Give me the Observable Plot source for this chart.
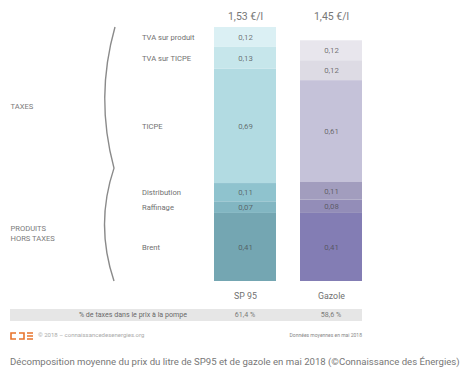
<!DOCTYPE html>
<html><head><meta charset="utf-8">
<script src="https://cdn.jsdelivr.net/npm/d3@7"></script>
<script src="https://cdn.jsdelivr.net/npm/@observablehq/plot@0.6"></script>
<style>
body{margin:0;background:#fff;font-family:Roboto,"Noto Sans",sans-serif;}
#wrap{position:relative;width:465px;height:380px;}
.abs{position:absolute;white-space:nowrap;}
</style></head>
<body><div id="wrap"></div>
<script>
const fuels = ["SP 95", "Gazole"];
const components = ["Brent", "Raffinage", "Distribution", "TICPE", "TVA sur TICPE", "TVA sur produit"];
const sp95Values = [0.41, 0.07, 0.11, 0.69, 0.13, 0.12];
const gazoleValues = [0.41, 0.08, 0.11, 0.61, 0.12, 0.12];
const totalLabels = ["1,53 €/l", "1,45 €/l"];
const taxShares = ["61,4 %", "58,6 %"];
const taxRowLabel = "% de taxes dans le prix à la pompe";
const groups = ["PRODUITS\nHORS TAXES", "TAXES"];
const groupMembers = [["Brent", "Raffinage", "Distribution"], ["TICPE", "TVA sur TICPE", "TVA sur produit"]];
const sp95Colors = ["#74a6b2", "#82b6c2", "#8fc3ce", "#b2dbe2", "#c6e6eb", "#dbf0f4"];
const gazoleColors = ["#837db4", "#938db8", "#a29dbe", "#c5c2d9", "#dddbe4", "#e8e6ed"];
const credit = "© 2018 – connaissancedesenergies.org";
const dataNote = "Données moyennes en mai 2018";
const caption = "Décomposition moyenne du prix du litre de SP95 et de gazole en mai 2018 (©Connaissance des Énergies)";

const valuesByFuel = [sp95Values, gazoleValues];
const colorsByFuel = [sp95Colors, gazoleColors];
const rows = [];
fuels.forEach((f, i) => components.forEach((c, j) => rows.push({fuel: f, comp: c, value: valuesByFuel[i][j], color: colorsByFuel[i][j]})));
const fmt = v => v.toFixed(2).replace(".", ",");
const total0 = d3.sum(sp95Values);
const groupMid = groupMembers.map(m => {
  let acc = 0, s = 0, e = 0;
  components.forEach((c, j) => { if (c === m[0]) s = acc; acc += sp95Values[j]; if (c === m[m.length - 1]) e = acc; });
  return (s + e) / 2;
});
const ptTop = total0;
const ptCusp = d3.sum(sp95Values.slice(0, 3)) + 0.09;

const brace = (index, scales, values, dims) => {
  const y = scales.y;
  const x0 = 115, xc = 95;
  const yt = y(ptTop), yc = y(ptCusp), yb = y(0);
  const ns = "http://www.w3.org/2000/svg";
  const p = document.createElementNS(ns, "path");
  p.setAttribute("d", `M${x0},${yt} Q${xc},${(yt + yc) / 2} ${x0 - 1},${yc} Q${xc},${(yc + yb) / 2} ${x0 - 1},${yb}`);
  p.setAttribute("fill", "none");
  p.setAttribute("stroke", "#8a8a8a");
  p.setAttribute("stroke-width", "1.4");
  return p;
};

const sp95Rows = rows.filter(d => d.fuel === fuels[0]);
const chart = Plot.plot({
  width: 465, height: 302,
  marginTop: 0, marginBottom: 21, marginLeft: 0, marginRight: 0,
  style: {fontFamily: "Roboto, sans-serif", background: "transparent"},
  x: {domain: fuels, range: [213, 362], paddingInner: 0.28, paddingOuter: 0, axis: null},
  y: {domain: [0, total0], range: [281, 27], axis: null},
  color: {type: "identity"},
  marks: [
    Plot.barY(rows, {x: "fuel", y: "value", fill: "color"}),
    Plot.text(rows, Plot.stackY({x: "fuel", y: "value", text: d => fmt(d.value), fill: "#4a4a4a", fillOpacity: 0.75, fontSize: 7.8})),
    Plot.text(sp95Rows, Plot.stackY({x: "fuel", y: "value", text: "comp", dx: -103.5, textAnchor: "start", fill: "#707070", fontSize: 7.6})),
    Plot.text(fuels, {x: d => d, text: (d, i) => totalLabels[i], frameAnchor: "top", dy: 12, fill: "#777", fontSize: 10.5}),
    Plot.axisX({tickSize: 0, tickPadding: 11, fontSize: 8.8, color: "#707070", label: null}),
    Plot.text(groups, {y: (d, i) => groupMid[i], text: d => d, frameAnchor: "left", textAnchor: "start", dx: 10, fill: "#7a7a7a", fontSize: 7.6, lineHeight: 1.3}),
    brace
  ]
});
const wrap = document.getElementById("wrap");
chart.style.position = "absolute"; chart.style.left = "0"; chart.style.top = "0";
wrap.appendChild(chart);

const xs = chart.scale("x");
const center = f => xs.apply(f) + xs.bandwidth / 2;
function add(html, css) { const d = document.createElement("div"); d.className = "abs"; d.innerHTML = html; Object.assign(d.style, css); wrap.appendChild(d); return d; }
add("", {left: "10px", top: "309px", width: "352px", height: "12px", background: "#e6e6e6"});
add(taxRowLabel, {right: (465 - 187) + "px", top: "309px", height: "12px", lineHeight: "12px", fontSize: "7.1px", color: "#6a6a6a"});
fuels.forEach((f, i) => add(taxShares[i], {left: (center(f) - 30) + "px", width: "60px", textAlign: "center", top: "309px", height: "12px", lineHeight: "12px", fontSize: "7.1px", color: "#7a7a7a"}));
add('<svg width="24" height="8" viewBox="0 0 24 8"><path d="M6,1 H1 V7 H6" fill="none" stroke="#e8742c" stroke-width="1.6"/><path d="M9,1 H14 V7 H9" fill="none" stroke="#e8742c" stroke-width="1.6"/><path d="M17,1 H23 M17,4 H23 M17,7 H23" fill="none" stroke="#e8742c" stroke-width="1.4"/></svg>', {left: "10px", top: "331px", height: "8px", lineHeight: "8px"});
add(credit, {left: "38px", top: "331px", fontSize: "6px", lineHeight: "8px", color: "#aaa"});
add(dataNote, {right: (465 - 362) + "px", top: "331px", fontSize: "5px", lineHeight: "8px", color: "#888"});
add(caption, {left: "10px", top: "355px", fontSize: "9.6px", lineHeight: "14px", color: "#777"});
</script></body></html>
